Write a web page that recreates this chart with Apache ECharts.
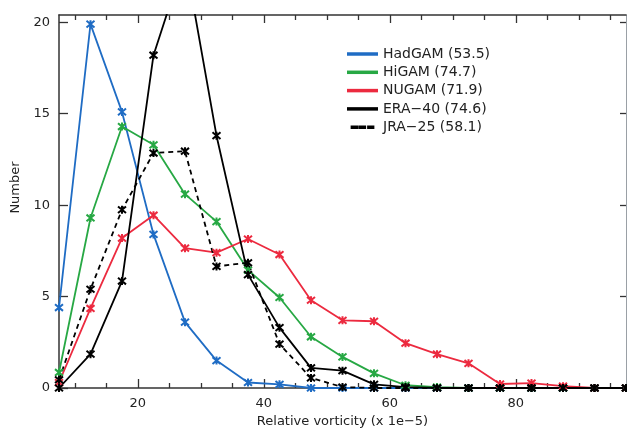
<!DOCTYPE html>
<html>
<head>
<meta charset="utf-8">
<script src="https://cdn.jsdelivr.net/npm/echarts@6/dist/echarts.min.js"></script>
<style>
    html, body { margin: 0; padding: 0; background: #fff; }
    #main { width: 627px; height: 429px; }
</style>
</head>
<body>
<div id="main"></div>
<script>
    // bin centres (x 1e-5)
    var binCentres = [7.5, 12.5, 17.5, 22.5, 27.5, 32.5, 37.5, 42.5, 47.5, 52.5, 57.5, 62.5, 67.5, 72.5, 77.5, 82.5, 87.5, 92.5, 97.5];
    var hadgam = [4.4, 19.9, 15.1, 8.4, 3.6, 1.5, 0.3, 0.2, 0, 0, 0, 0, 0, 0, 0, 0, 0, 0, 0];
    var higam  = [0.85, 9.3, 14.3, 13.3, 10.6, 9.1, 6.45, 4.95, 2.8, 1.7, 0.8, 0.15, 0.05, 0, 0, 0, 0, 0, 0];
    var nugam  = [0.3, 4.35, 8.2, 9.45, 7.65, 7.4, 8.15, 7.3, 4.8, 3.7, 3.65, 2.45, 1.85, 1.35, 0.22, 0.27, 0.1, 0, 0];
    var era40  = [0, 1.85, 5.85, 18.2, 23.5, 13.8, 6.2, 3.3, 1.1, 0.95, 0.2, 0.05, 0, 0, 0, 0, 0, 0, 0];
    var jra25  = [0.45, 5.4, 9.75, 12.85, 12.95, 6.65, 6.85, 2.4, 0.55, 0.05, 0, 0, 0, 0, 0, 0, 0, 0, 0];

    var xMajor = [20, 40, 60, 80];
    var xMinor = [10, 15, 25, 30, 35, 45, 50, 55, 65, 70, 75, 85, 90, 95];
    var yTicks = [0, 5, 10, 15, 20];

    var axisColor = '#333';
    var font = 'DejaVu Sans';
    var star = 'path://M0,0L10,10M10,0L0,10M5,-1L5,11';

    function pairs(ys) {
        return ys.map(function (y, i) { return [binCentres[i], y]; });
    }

    function line(name, color, ys, dashed) {
        return {
            name: name, type: 'line', data: pairs(ys),
            symbol: star, symbolSize: 8, showSymbol: true,
            itemStyle: {color: color, borderColor: color, borderWidth: 2},
            lineStyle: {color: color, width: 1.8, type: dashed ? [5, 4] : 'solid'},
            animation: false
        };
    }

    function xAxis(position, ticks, len, showLine, showLabel) {
        return {
            type: 'value', min: 7.5, max: 97.5, position: position,
            axisLine: {show: showLine, lineStyle: {color: axisColor, width: 1.5}},
            axisTick: {show: true, inside: true, length: len, customValues: ticks, lineStyle: {color: axisColor, width: 1.3}},
            axisLabel: {show: showLabel, customValues: ticks, margin: 9, color: '#222', fontFamily: font, fontSize: 13},
            splitLine: {show: false}
        };
    }

    var chart = echarts.init(document.getElementById('main'));
    var xs = [
        xAxis('bottom', xMajor, 9, true, true),
        xAxis('bottom', xMinor, 5, false, false),
        xAxis('top', xMajor, 8, true, false),
        xAxis('top', xMinor, 5, false, false)
    ];
    xs[0].name = 'Relative vorticity (x 1e\u22125)';
    xs[0].nameLocation = 'middle';
    xs[0].nameGap = 26;
    xs[0].nameTextStyle = {color: '#222', fontFamily: font, fontSize: 13};

    chart.setOption({
        backgroundColor: '#fff',
        grid: {left: 59, right: 1, top: 15, bottom: 41, outerBoundsMode: 'none', containLabel: false},
        legend: {
            orient: 'vertical', left: 342, top: 42,
            itemWidth: 29, itemHeight: 1.5, itemGap: 4.3,
            textStyle: {color: '#222', fontFamily: font, fontSize: 14, lineHeight: 14, padding: [0, 0, 0, 1]},
            data: [
                {name: 'HadGAM (53.5)', icon: 'rect'},
                {name: 'HiGAM (74.7)', icon: 'rect'},
                {name: 'NUGAM (71.9)', icon: 'rect'},
                {name: 'ERA\u221240 (74.6)', icon: 'rect'},
                {name: 'JRA\u221225 (58.1)', icon: 'path://M0,0h8v2h-8zM11,0h7v2h-7zM22,0h7v2h-7z'}
            ]
        },
        xAxis: xs,
        yAxis: [
            {
                type: 'value', min: 0, max: 20.4, position: 'left',
                name: 'Number', nameLocation: 'middle', nameGap: 33, nameRotate: 90,
                nameTextStyle: {color: '#222', fontFamily: font, fontSize: 13, padding: [0, 0, 0, 28]},
                axisLine: {show: true, lineStyle: {color: axisColor, width: 1.5}},
                axisTick: {inside: true, length: 9, customValues: yTicks, lineStyle: {color: axisColor, width: 1.3}},
                axisLabel: {customValues: yTicks, margin: 9, color: '#222', fontFamily: font, fontSize: 13},
                splitLine: {show: false}
            },
            {
                type: 'value', min: 0, max: 20.4, position: 'right',
                axisLine: {show: true, lineStyle: {color: '#9aa0a6', width: 1}},
                axisTick: {inside: true, length: 6, customValues: [5, 10, 15, 20], lineStyle: {color: axisColor, width: 1.3}},
                axisLabel: {show: false},
                splitLine: {show: false}
            }
        ],
        series: [
            line('HadGAM (53.5)', '#1f6cc4', hadgam),
            line('HiGAM (74.7)', '#27a844', higam),
            line('NUGAM (71.9)', '#ec2a3f', nugam),
            line('ERA\u221240 (74.6)', '#000', era40),
            line('JRA\u221225 (58.1)', '#000', jra25, true)
        ]
    });
</script>
</body>
</html>
